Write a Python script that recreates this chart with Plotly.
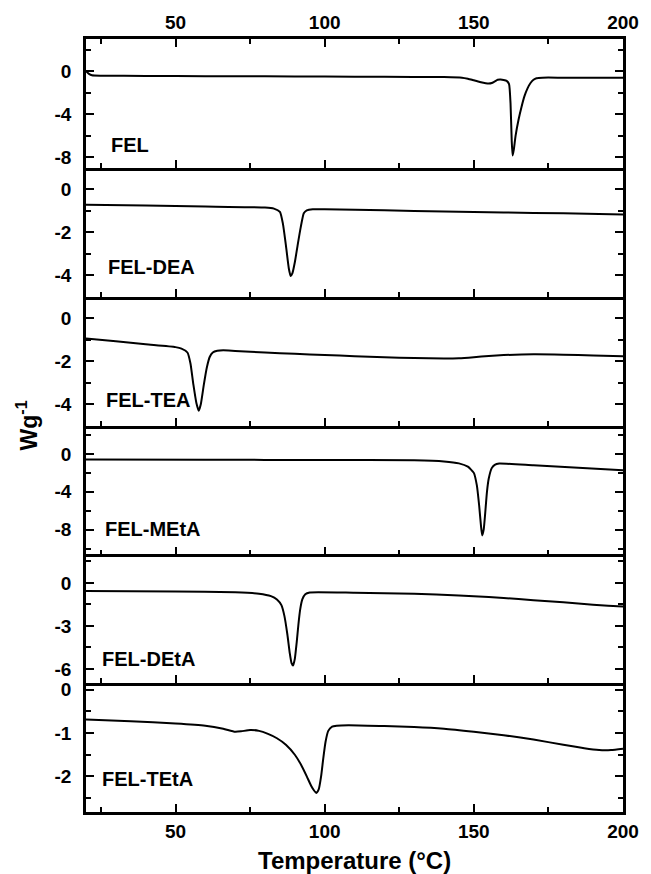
import plotly.graph_objects as go
from plotly.subplots import make_subplots

# DSC heat-flow curves (W/g) vs temperature (°C)
fel_t = [20, 21, 22, 25, 40, 60, 80, 100, 120, 140, 146, 148, 150, 152, 154, 155, 156, 157, 158, 159, 160,
         161, 161.8, 162.3, 162.7, 163.0, 163.4, 164, 165, 166, 167, 168, 169, 170, 171, 173, 180, 200]
fel_q = [0.0, -0.25, -0.38, -0.42, -0.44, -0.46, -0.48, -0.5, -0.52, -0.55, -0.6, -0.7, -0.85, -1.0, -1.12,
         -1.15, -1.1, -0.95, -0.8, -0.78, -0.82, -0.9, -1.2, -3.0, -6.5, -7.85, -7.3, -6.0, -4.5, -3.3, -2.3,
         -1.6, -1.1, -0.8, -0.65, -0.6, -0.6, -0.6]

dea_t = [20, 40, 60, 80, 83, 85, 86, 87, 88, 88.6, 89.2, 90, 91, 92, 93, 94, 96, 100, 120, 140, 160, 180, 200]
dea_q = [-0.72, -0.76, -0.8, -0.85, -0.9, -1.05, -1.6, -2.6, -3.7, -4.04, -3.9, -3.4, -2.55, -1.75, -1.12,
         -0.98, -0.93, -0.93, -0.98, -1.03, -1.08, -1.12, -1.17]

tea_t = [20, 30, 40, 50, 52, 54, 55, 56, 57, 57.8, 58.5, 59.5, 60.5, 61.5, 62.5, 64, 66, 70, 80, 90, 100,
         110, 120, 130, 140, 145, 150, 155, 160, 170, 180, 190, 200]
tea_q = [-0.95, -1.08, -1.22, -1.35, -1.42, -1.6, -2.1, -3.1, -3.95, -4.31, -4.0, -3.1, -2.3, -1.8, -1.6,
         -1.52, -1.5, -1.53, -1.6, -1.66, -1.72, -1.77, -1.82, -1.86, -1.88, -1.87, -1.82, -1.76, -1.72,
         -1.68, -1.7, -1.74, -1.78]

meta_t = [20, 60, 100, 130, 140, 145, 148, 150, 151, 151.8, 152.4, 152.8, 153.3, 153.8, 154.4, 155, 156,
          157, 158.5, 170, 185, 200]
meta_q = [-0.6, -0.62, -0.64, -0.68, -0.8, -1.0, -1.35, -2.0, -3.3, -5.5, -7.6, -8.6, -8.0, -6.3, -4.0,
          -2.6, -1.5, -1.15, -1.02, -1.2, -1.45, -1.72]

deta_t = [20, 50, 70, 78, 82, 84, 85.5, 86.5, 87.5, 88.3, 88.9, 89.4, 90, 90.6, 91.2, 91.8, 92.5, 93.5, 95,
          110, 130, 145, 155, 165, 175, 185, 195, 200]
deta_q = [-0.57, -0.6, -0.65, -0.75, -0.92, -1.15, -1.55, -2.3, -3.6, -4.9, -5.6, -5.77, -5.3, -4.2, -2.9,
          -1.85, -1.15, -0.78, -0.66, -0.68, -0.75, -0.88, -0.98, -1.12, -1.28, -1.43, -1.6, -1.65]

teta_t = [20, 35, 50, 60, 66, 70, 72, 75, 78, 81, 84, 87, 90, 92, 94, 95.5, 96.5, 97.2, 98, 98.8, 99.5,
          100.3, 101.2, 102.5, 104, 108, 120, 130, 140, 150, 160, 170, 180, 187, 192, 196, 200]
teta_q = [-0.69, -0.73, -0.78, -0.83, -0.9, -0.97, -0.96, -0.93, -0.95, -1.02, -1.12, -1.27, -1.5, -1.72,
          -2.0, -2.22, -2.33, -2.38, -2.3, -2.0, -1.6, -1.2, -0.95, -0.85, -0.83, -0.82, -0.84, -0.86, -0.9,
          -0.97, -1.05, -1.15, -1.27, -1.35, -1.39, -1.39, -1.36]

samples = ["FEL", "FEL-DEA", "FEL-TEA", "FEL-MEtA", "FEL-DEtA", "FEL-TEtA"]
temps = [fel_t, dea_t, tea_t, meta_t, deta_t, teta_t]
flows = [fel_q, dea_q, tea_q, meta_q, deta_q, teta_q]

# y-axis ticks (labelled) and minor ticks per panel
y_ticks = [[-8, -4, 0], [-4, -2, 0], [-4, -2, 0], [-8, -4, 0], [-6, -3, 0], [-2, -1, 0]]
y_tick_text = [["-8", "-4", "0"], ["-4", "-2", "0"], ["-4", "-2", "0"], ["-8", "-4", "0"],
               ["-6", "-3", "0"], ["-2", "-1", "0"]]
y_minor = [[-6, -2, 2], [-3, -1], [-3, -1], [-10, -6, -2, 2], [-4.5, -1.5, 1.5], [-2.5, -1.5, -0.5]]
y_ranges = [[-9, 3], [-5, 1], [-5, 1], [-10.6, 3], [-7, 2], [-2.82, 0.15]]

x_ticks = [50, 100, 150, 200]
x_minor = [25, 75, 125, 175]

label_pos = [(0.042, 0.18), (0.037, 0.23), (0.033, 0.20), (0.031, 0.196), (0.027, 0.19), (0.027, 0.26)]

FONT = "Liberation Sans, Arial, sans-serif"
tick_font = dict(family=FONT, size=19, color="black", weight="bold")
minor_x = dict(tickvals=x_minor, ticks="inside", ticklen=5, tickwidth=2, tickcolor="black", showgrid=False)

fig = make_subplots(rows=6, cols=1, shared_xaxes=False, vertical_spacing=0)

for i in range(6):
    r = i + 1
    fig.add_trace(go.Scatter(x=temps[i], y=flows[i], mode="lines",
                             line=dict(color="black", width=2, shape="spline", smoothing=0.5),
                             showlegend=False, hoverinfo="skip"), row=r, col=1)
    fig.update_xaxes(range=[20, 200], tickvals=x_ticks, ticks="inside", ticklen=8, tickwidth=2,
                     tickcolor="black", showline=True, linewidth=2.5, linecolor="black",
                     showgrid=False, zeroline=False,
                     showticklabels=(r == 6), tickfont=tick_font, minor=minor_x,
                     row=r, col=1)
    fig.update_yaxes(range=y_ranges[i], tickvals=y_ticks[i], ticktext=y_tick_text[i],
                     ticks="inside", ticklen=8, tickwidth=2,
                     tickcolor="black", showline=True, linewidth=2.5, linecolor="black", mirror="ticks",
                     showgrid=False, zeroline=False, tickfont=tick_font, ticklabelstandoff=8,
                     minor=dict(tickvals=y_minor[i], ticks="inside", ticklen=5, tickwidth=2,
                                tickcolor="black", showgrid=False),
                     row=r, col=1)
    yref = "y domain" if r == 1 else f"y{r} domain"
    xref = "x domain" if r == 1 else f"x{r} domain"
    fig.add_annotation(text=samples[i], x=label_pos[i][0], y=label_pos[i][1], xref=xref, yref=yref,
                       xanchor="left", yanchor="middle", showarrow=False,
                       font=dict(family=FONT, size=20, color="black", weight="bold"))

# top temperature axis over the first panel
fig.add_trace(go.Scatter(x=[None], y=[None], xaxis="x7", yaxis="y", showlegend=False, hoverinfo="skip"))
fig.update_layout(xaxis7=dict(overlaying="x", anchor="y", side="top", range=[20, 200], tickvals=x_ticks,
                              ticks="inside", ticklen=8, tickwidth=2, tickcolor="black", showline=True,
                              linewidth=2.5, linecolor="black", showgrid=False, zeroline=False,
                              tickfont=tick_font, minor=minor_x))

fig.add_annotation(text="Temperature (°C)", x=0.5, y=0, xref="paper", yref="paper",
                   yanchor="top", yshift=-33, showarrow=False,
                   font=dict(family=FONT, size=24, color="black", weight="bold"))
fig.add_annotation(text="Wg<sup>-1</sup>", x=-0.11, y=0.5, xref="paper", yref="paper", textangle=-90,
                   showarrow=False, xanchor="center", yanchor="middle",
                   font=dict(family=FONT, size=23, color="black", weight="bold"))

fig.update_layout(width=651, height=874, margin=dict(l=86, r=19, t=38, b=62),
                  plot_bgcolor="white", paper_bgcolor="white")

fig.write_html("out.html")
